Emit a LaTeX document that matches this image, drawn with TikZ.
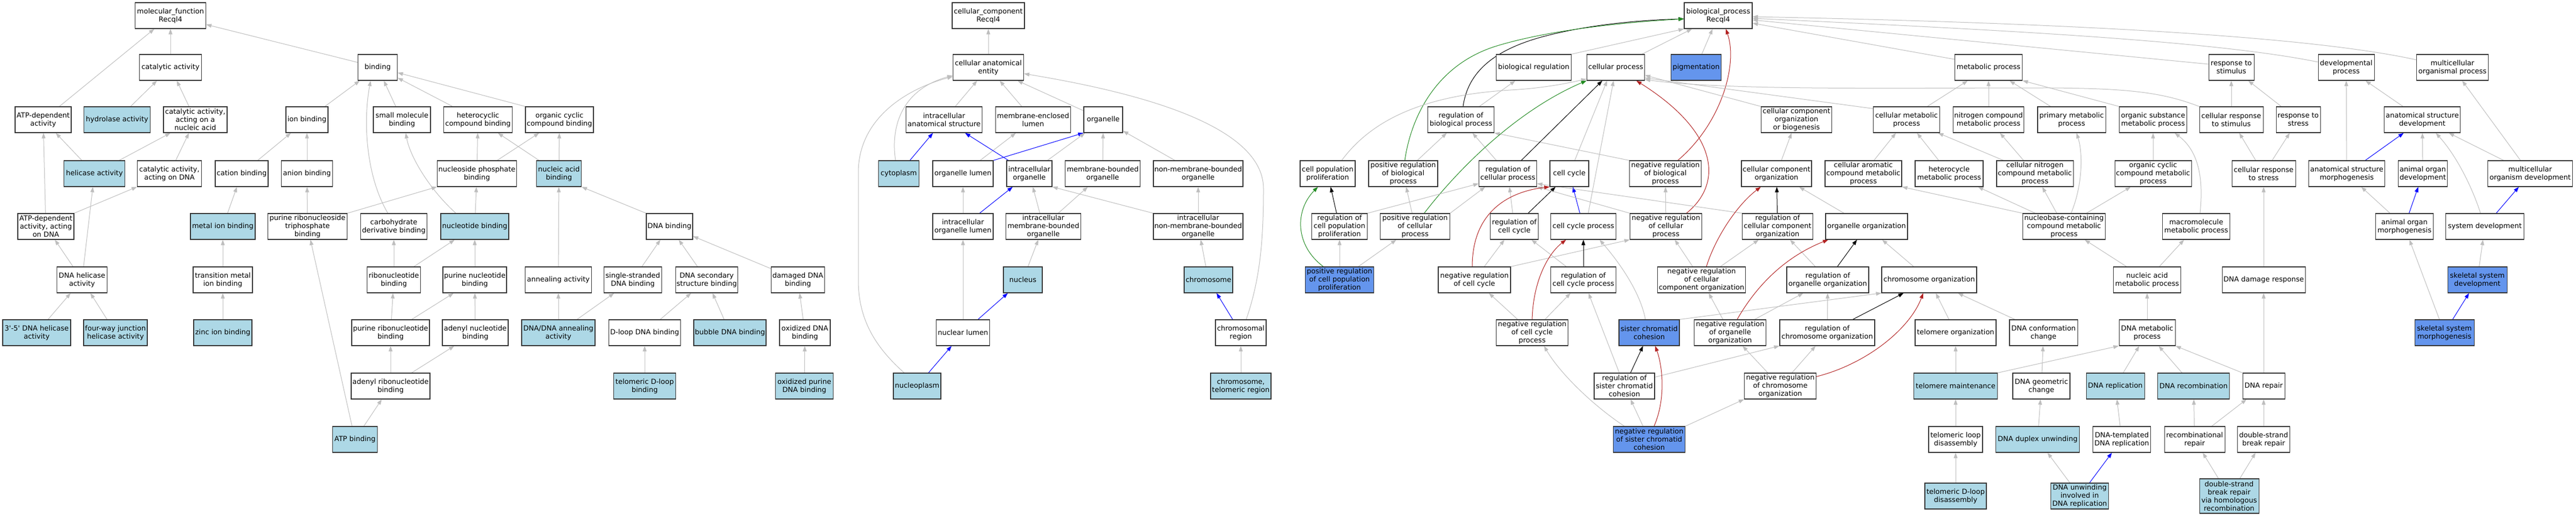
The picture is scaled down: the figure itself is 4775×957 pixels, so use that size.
\documentclass[tikz,border=0pt]{standalone}
\usepackage{fontspec}
\setmainfont{DejaVu Sans}
\usetikzlibrary{arrows.meta,backgrounds}
\definecolor{egray}{RGB}{190,190,190}
\definecolor{lbcol}{RGB}{173,216,230}
\definecolor{rbcol}{RGB}{100,149,237}
\definecolor{ered}{RGB}{178,34,34}
\definecolor{egreen}{RGB}{34,139,34}
\definecolor{eblue}{RGB}{0,0,255}
\newcommand\nodefont{\fontsize{13}{15}\selectfont}
\tikzset{
  gobox/.style={draw=black!80, line width=1.1pt, fill=white, minimum height=48pt, inner sep=0pt, align=center, font=\nodefont},
  lbfill/.style={fill=lbcol},
  rbfill/.style={fill=rbcol},
  gedge/.style={draw=egray, line width=1pt, -{Triangle[length=10pt,width=7pt]}},
  kedge/.style={gedge, draw=black},
  gnedge/.style={gedge, draw=egreen},
  redge/.style={gedge, draw=ered},
  bledge/.style={gedge, draw=eblue}
}
\begin{document}
\begin{tikzpicture}[x=1pt,y=-1pt]
\useasboundingbox (0,0) rectangle (4775,957);
% ---------------- molecular function ----------------
\node[gobox,minimum width=131pt] (mf) at (316,29) {molecular\_function\\Recql4};
\node[gobox,minimum width=115pt] (catalytic) at (316,125) {catalytic activity};
\node[gobox,minimum width=104pt] (atpdep) at (80,222) {ATP-dependent\\activity};
\node[gobox,lbfill,minimum width=123pt] (hydrolase) at (217,222) {hydrolase activity};
\node[gobox,minimum width=118pt] (catna) at (362,222) {catalytic activity,\\acting on a\\nucleic acid};
\node[gobox,minimum width=78pt] (ionb) at (569,222) {ion binding};
\node[gobox,lbfill,minimum width=113pt] (helicase) at (175,322) {helicase activity};
\node[gobox,minimum width=119pt] (catdna) at (314,322) {catalytic activity,\\acting on DNA};
\node[gobox,minimum width=98pt] (cation) at (448,322) {cation binding};
\node[gobox,minimum width=95pt] (anion) at (569,322) {anion binding};
\node[gobox,minimum width=104pt] (atpdna) at (85,420) {ATP-dependent\\activity, acting\\on DNA};
\node[gobox,lbfill,minimum width=120pt] (metal) at (413,420) {metal ion binding};
\node[gobox,minimum width=147pt] (prtb) at (570,420) {purine ribonucleoside\\triphosphate\\binding};
\node[gobox,minimum width=93pt] (dnahel) at (152,519) {DNA helicase\\activity};
\node[gobox,minimum width=110pt] (transmetal) at (413,519) {transition metal\\ion binding};
\node[gobox,lbfill,minimum width=126pt] (h35) at (68,617) {3\textquotesingle-5\textquotesingle\ DNA helicase\\activity};
\node[gobox,lbfill,minimum width=118pt] (fourway) at (214,617) {four-way junction\\helicase activity};
\node[gobox,lbfill,minimum width=108pt] (zinc) at (413,617) {zinc ion binding};
\node[gobox,minimum width=73pt] (binding) at (700,125) {binding};
\node[gobox,minimum width=106pt] (smallmol) at (745,222) {small molecule\\binding};
\node[gobox,minimum width=127pt] (hetcyc) at (886,222) {heterocyclic\\compound binding};
\node[gobox,minimum width=126pt] (orgcyc) at (1037,222) {organic cyclic\\compound binding};
\node[gobox,minimum width=147pt] (nucphos) at (884,322) {nucleoside phosphate\\binding};
\node[gobox,lbfill,minimum width=83pt] (nucacid) at (1036,322) {nucleic acid\\binding};
\node[gobox,minimum width=123pt] (carbo) at (730,420) {carbohydrate\\derivative binding};
\node[gobox,lbfill,minimum width=126pt] (nucleotide) at (880,420) {nucleotide binding};
\node[gobox,minimum width=86pt] (dnab) at (1241,420) {DNA binding};
\node[gobox,minimum width=99pt] (ribonuc) at (730,519) {ribonucleotide\\binding};
\node[gobox,minimum width=118pt] (purnuc) at (880,519) {purine nucleotide\\binding};
\node[gobox,minimum width=123pt] (anneal) at (1035,519) {annealing activity};
\node[gobox,minimum width=107pt] (ssdna) at (1173,519) {single-stranded\\DNA binding};
\node[gobox,minimum width=115pt] (dnasec) at (1310,519) {DNA secondary\\structure binding};
\node[gobox,minimum width=99pt] (damaged) at (1479,519) {damaged DNA\\binding};
\node[gobox,minimum width=144pt] (purribo) at (724,617) {purine ribonucleotide\\binding};
\node[gobox,minimum width=122pt] (adenylnuc) at (881,617) {adenyl nucleotide\\binding};
\node[gobox,lbfill,minimum width=136pt] (dnadna) at (1035,617) {DNA/DNA annealing\\activity};
\node[gobox,minimum width=133pt] (dloop) at (1195,617) {D-loop DNA binding};
\node[gobox,lbfill,minimum width=134pt] (bubble) at (1353,617) {bubble DNA binding};
\node[gobox,minimum width=94pt] (oxid) at (1492,617) {oxidized DNA\\binding};
\node[gobox,minimum width=146pt] (adenylribo) at (724,716) {adenyl ribonucleotide\\binding};
\node[gobox,lbfill,minimum width=115pt] (teldloop) at (1195,716) {telomeric D-loop\\binding};
\node[gobox,lbfill,minimum width=107pt] (oxpur) at (1491,716) {oxidized purine\\DNA binding};
\node[gobox,lbfill,minimum width=83pt] (atpb) at (658,815) {ATP binding};
% ---------------- cellular component ----------------
\node[gobox,minimum width=134pt] (cc) at (1832,29) {cellular\_component\\Recql4};
\node[gobox,minimum width=131pt] (cae) at (1832,125) {cellular anatomical\\entity};
\node[gobox,minimum width=141pt] (ias) at (1750,222) {intracellular\\anatomical structure};
\node[gobox,minimum width=139pt] (mel) at (1915,222) {membrane-enclosed\\lumen};
\node[gobox,minimum width=72pt] (organelle) at (2045,222) {organelle};
\node[gobox,lbfill,minimum width=75pt] (cytoplasm) at (1666,322) {cytoplasm};
\node[gobox,minimum width=112pt] (orglumen) at (1785,322) {organelle lumen};
\node[gobox,minimum width=84pt] (intraorg) at (1908,322) {intracellular\\organelle};
\node[gobox,minimum width=139pt] (mbo) at (2044,322) {membrane-bounded\\organelle};
\node[gobox,minimum width=166pt] (nmbo) at (2221,322) {non-membrane-bounded\\organelle};
\node[gobox,minimum width=112pt] (iol) at (1785,420) {intracellular\\organelle lumen};
\node[gobox,minimum width=139pt] (imbo) at (1934,420) {intracellular\\membrane-bounded\\organelle};
\node[gobox,minimum width=166pt] (inmbo) at (2221,420) {intracellular\\non-membrane-bounded\\organelle};
\node[gobox,lbfill,minimum width=72pt] (nucleus) at (1896,519) {nucleus};
\node[gobox,lbfill,minimum width=90pt] (chromosome) at (2240,519) {chromosome};
\node[gobox,minimum width=99pt] (nuclumen) at (1785,617) {nuclear lumen};
\node[gobox,minimum width=94pt] (chromreg) at (2300,617) {chromosomal\\region};
\node[gobox,lbfill,minimum width=88pt] (nucleoplasm) at (1700,716) {nucleoplasm};
\node[gobox,lbfill,minimum width=112pt] (telreg) at (2300,716) {chromosome,\\telomeric region};
% ---------------- biological process ----------------
\node[gobox,minimum width=126pt] (bp) at (3185,29) {biological\_process\\Recql4};
\node[gobox,minimum width=139pt] (bioreg) at (2843,125) {biological regulation};
\node[gobox,minimum width=107pt] (cellproc) at (2995,125) {cellular process};
\node[gobox,rbfill,minimum width=93pt] (pigment) at (3144,125) {pigmentation};
\node[gobox,minimum width=125pt] (metab) at (3686,125) {metabolic process};
\node[gobox,minimum width=84pt] (respstim) at (4136,125) {response to\\stimulus};
\node[gobox,minimum width=104pt] (devproc) at (4349,125) {developmental\\process};
\node[gobox,minimum width=133pt] (multorg) at (4546,125) {multicellular\\organismal process};
\node[gobox,minimum width=123pt] (regbio) at (2708,222) {regulation of\\biological process};
\node[gobox,minimum width=131pt] (ccob) at (3330,222) {cellular component\\organization\\or biogenesis};
\node[gobox,minimum width=123pt] (cellmet) at (3534,222) {cellular metabolic\\process};
\node[gobox,minimum width=131pt] (nitro) at (3686,222) {nitrogen compound\\metabolic process};
\node[gobox,minimum width=126pt] (primary) at (3840,222) {primary metabolic\\process};
\node[gobox,minimum width=125pt] (orgsub) at (3991,222) {organic substance\\metabolic process};
\node[gobox,minimum width=118pt] (cellresp) at (4136,222) {cellular response\\to stimulus};
\node[gobox,minimum width=82pt] (respstress) at (4260,222) {response to\\stress};
\node[gobox,minimum width=141pt] (asd) at (4490,222) {anatomical structure\\development};
\node[gobox,minimum width=102pt] (cpp) at (2461,322) {cell population\\proliferation};
\node[gobox,minimum width=128pt] (posbio) at (2601,322) {positive regulation\\of biological\\process};
\node[gobox,minimum width=107pt] (regcell) at (2795,322) {regulation of\\cellular process};
\node[gobox,minimum width=72pt] (cellcycle) at (2909,322) {cell cycle};
\node[gobox,minimum width=133pt] (negbio) at (3087,322) {negative regulation\\of biological\\process};
\node[gobox,minimum width=130pt] (cco) at (3293,322) {cellular component\\organization};
\node[gobox,minimum width=142pt] (carom) at (3454,322) {cellular aromatic\\compound metabolic\\process};
\node[gobox,minimum width=126pt] (hetero) at (3613,322) {heterocycle\\metabolic process};
\node[gobox,minimum width=142pt] (cnitro) at (3772,322) {cellular nitrogen\\compound metabolic\\process};
\node[gobox,minimum width=142pt] (occm) at (3991,322) {organic cyclic\\compound metabolic\\process};
\node[gobox,minimum width=118pt] (crs) at (4196,322) {cellular response\\to stress};
\node[gobox,minimum width=141pt] (asm) at (4350,322) {anatomical structure\\morphogenesis};
\node[gobox,minimum width=91pt] (aod) at (4491,322) {animal organ\\development};
\node[gobox,minimum width=157pt] (mod) at (4690,322) {multicellular\\organism development};
\node[gobox,minimum width=103pt] (regcpp) at (2483,420) {regulation of\\cell population\\proliferation};
\node[gobox,minimum width=129pt] (poscell) at (2623,420) {positive regulation\\of cellular\\process};
\node[gobox,minimum width=89pt] (regcc) at (2807,420) {regulation of\\cell cycle};
\node[gobox,minimum width=121pt] (ccp) at (2935,420) {cell cycle process};
\node[gobox,minimum width=133pt] (negcell) at (3088,420) {negative regulation\\of cellular\\process};
\node[gobox,minimum width=131pt] (regcco) at (3295,420) {regulation of\\cellular component\\organization};
\node[gobox,minimum width=152pt] (orgorg) at (3460,420) {organelle organization};
\node[gobox,minimum width=153pt] (nbccm) at (3826,420) {nucleobase-containing\\compound metabolic\\process};
\node[gobox,minimum width=125pt] (macro) at (4071,420) {macromolecule\\metabolic process};
\node[gobox,minimum width=107pt] (aom) at (4457,420) {animal organ\\morphogenesis};
\node[gobox,minimum width=145pt] (sysdev) at (4606,420) {system development};
\node[gobox,rbfill,minimum width=127pt] (pospp) at (2483,519) {positive regulation\\of cell population\\proliferation};
\node[gobox,minimum width=134pt] (negcc) at (2733,519) {negative regulation\\of cell cycle};
\node[gobox,minimum width=121pt] (regccp) at (2935,519) {regulation of\\cell cycle process};
\node[gobox,minimum width=163pt] (negcco) at (3154,519) {negative regulation\\of cellular\\component organization};
\node[gobox,minimum width=152pt] (regoo) at (3388,519) {regulation of\\organelle organization};
\node[gobox,minimum width=176pt] (chromorg) at (3576,519) {chromosome organization};
\node[gobox,minimum width=125pt] (nucacidmet) at (3980,519) {nucleic acid\\metabolic process};
\node[gobox,minimum width=154pt] (ddr) at (4196,519) {DNA damage response};
\node[gobox,rbfill,minimum width=110pt] (ssd) at (4592,519) {skeletal system\\development};
\node[gobox,minimum width=133pt] (negccp) at (2840,617) {negative regulation\\of cell cycle\\process};
\node[gobox,rbfill,minimum width=112pt] (scc) at (3057,617) {sister chromatid\\cohesion};
\node[gobox,minimum width=133pt] (negoo) at (3207,617) {negative regulation\\of organelle\\organization};
\node[gobox,minimum width=176pt] (regchrom) at (3387,617) {regulation of\\chromosome organization};
\node[gobox,minimum width=150pt] (telorg) at (3625,617) {telomere organization};
\node[gobox,minimum width=126pt] (dnaconf) at (3788,617) {DNA conformation\\change};
\node[gobox,minimum width=104pt] (dnamet) at (3980,617) {DNA metabolic\\process};
\node[gobox,rbfill,minimum width=110pt] (ssm) at (4531,617) {skeletal system\\morphogenesis};
\node[gobox,minimum width=112pt] (regscc) at (3011,716) {regulation of\\sister chromatid\\cohesion};
\node[gobox,minimum width=133pt] (negchrom) at (3300,716) {negative regulation\\of chromosome\\organization};
\node[gobox,lbfill,minimum width=155pt] (telmaint) at (3625,716) {telomere maintenance};
\node[gobox,minimum width=106pt] (dnageo) at (3784,716) {DNA geometric\\change};
\node[gobox,lbfill,minimum width=108pt] (dnarep) at (3921,716) {DNA replication};
\node[gobox,lbfill,minimum width=133pt] (dnarecomb) at (4066,716) {DNA recombination};
\node[gobox,minimum width=78pt] (dnarepair) at (4196,716) {DNA repair};
\node[gobox,rbfill,minimum width=133pt] (negscc) at (3057,815) {negative regulation\\of sister chromatid\\cohesion};
\node[gobox,minimum width=100pt] (tld) at (3625,815) {telomeric loop\\disassembly};
\node[gobox,lbfill,minimum width=155pt] (dnadup) at (3777,815) {DNA duplex unwinding};
\node[gobox,minimum width=107pt] (dtdr) at (3933,815) {DNA-templated\\DNA replication};
\node[gobox,minimum width=112pt] (recrep) at (4068,815) {recombinational\\repair};
\node[gobox,minimum width=97pt] (dsbr) at (4196,815) {double-strand\\break repair};
\node[gobox,lbfill,minimum width=114pt] (tdld) at (3625,920) {telomeric D-loop\\disassembly};
\node[gobox,lbfill,minimum width=107pt] (dnaunw) at (3855,920) {DNA unwinding\\involved in\\DNA replication};
\node[gobox,lbfill,minimum width=110pt,minimum height=64pt] (dsbrhr) at (4132,920) {double-strand\\break repair\\via homologous\\recombination};

\begin{pgfonlayer}{background}
\fill[white] (0,0) rectangle (4775,957);
% MF edges
\draw[gedge] (catalytic) -- (mf);
\draw[gedge] (atpdep) -- (mf);
\draw[gedge] (binding) -- (mf);
\draw[gedge] (hydrolase) -- (catalytic);
\draw[gedge] (catna) -- (catalytic);
\draw[gedge] (helicase) -- (atpdep);
\draw[gedge] (helicase) -- (catna);
\draw[gedge] (catdna) -- (catna);
\draw[gedge] (atpdna) -- (atpdep);
\draw[gedge] (atpdna.north east) -- (catdna.south west);
\draw[gedge] (dnahel) -- (atpdna);
\draw[gedge] (dnahel) -- (helicase);
\draw[gedge] (h35) -- (dnahel);
\draw[gedge] (fourway) -- (dnahel);
\draw[gedge] (ionb) -- (binding);
\draw[gedge] (cation) -- (ionb);
\draw[gedge] (anion) -- (ionb);
\draw[gedge] (metal) -- (cation);
\draw[gedge] (transmetal) -- (metal);
\draw[gedge] (zinc) -- (transmetal);
\draw[gedge] (prtb) -- (anion);
\draw[gedge] (prtb.north east) -- (nucphos.south west);
\draw[gedge] (atpb) -- (prtb);
\draw[gedge] (atpb) -- (adenylribo);
\draw[gedge] (smallmol) -- (binding);
\draw[gedge] (hetcyc) -- (binding);
\draw[gedge] (orgcyc.north west) -- (binding);
\draw[gedge] ([xshift=-11pt]carbo.north) .. controls (680,330) and (672,230) .. ([xshift=-13pt]binding.south);
\draw[gedge] (nucphos) -- (hetcyc);
\draw[gedge] (nucphos) -- (orgcyc);
\draw[gedge] (nucacid) -- (hetcyc);
\draw[gedge] (nucacid) -- (orgcyc);
\draw[gedge] (nucleotide) -- (nucphos);
\draw[gedge] ([xshift=-35pt]nucleotide.north) .. controls (795,350) and (760,290) .. ([xshift=7pt]smallmol.south);
\draw[gedge] (ribonuc) -- (carbo);
\draw[gedge] (ribonuc) -- (nucleotide);
\draw[gedge] (purnuc) -- (nucleotide);
\draw[gedge] (purribo) -- (ribonuc);
\draw[gedge] (purribo) -- (purnuc);
\draw[gedge] (adenylnuc) -- (purnuc);
\draw[gedge] (adenylribo) -- (purribo);
\draw[gedge] (adenylribo) -- (adenylnuc);
\draw[gedge] (anneal) -- (nucacid);
\draw[gedge] (dnadna) -- (anneal);
\draw[gedge] (dnadna) -- (ssdna);
\draw[gedge] (dnab.north west) -- (nucacid.south east);
\draw[gedge] (ssdna) -- (dnab);
\draw[gedge] (dnasec) -- (dnab);
\draw[gedge] (damaged) -- (dnab);
\draw[gedge] (dloop) -- (dnasec);
\draw[gedge] (bubble) -- (dnasec);
\draw[gedge] (oxid) -- (damaged);
\draw[gedge] (oxpur) -- (oxid);
\draw[gedge] (teldloop) -- (dloop);
% CC edges
\draw[gedge] (cae) -- (cc);
\draw[gedge] (ias) -- (cae);
\draw[gedge] (mel) -- (cae);
\draw[gedge] (organelle) -- (cae);
\draw[gedge] ([xshift=-6pt]cytoplasm.north) .. controls (1650,230) and (1675,165) .. ([yshift=-15pt]cae.west);
\draw[gedge] ([xshift=-24pt]nucleoplasm.north) .. controls (1630,650) and (1591,600) .. (1591,520) -- (1591,320) .. controls (1591,220) and (1680,165) .. ([yshift=-17pt]cae.west);
\draw[gedge] ([xshift=10pt]chromreg.north) .. controls (2335,520) and (2342,450) .. (2342,350) .. controls (2342,230) and (2100,170) .. (cae.350);
\draw[bledge] (cytoplasm) -- (ias);
\draw[gedge] (orglumen) -- (mel);
\draw[bledge] (orglumen.north east) -- (organelle.south west);
\draw[bledge] (intraorg) -- (ias);
\draw[gedge] (intraorg) -- (organelle);
\draw[gedge] (mbo) -- (organelle);
\draw[gedge] (nmbo) -- (organelle);
\draw[gedge] (iol) -- (orglumen);
\draw[bledge] (iol) -- (intraorg);
\draw[gedge] (imbo) -- (intraorg);
\draw[gedge] (imbo) -- (mbo);
\draw[gedge] (inmbo.north west) -- (intraorg.south east);
\draw[gedge] (inmbo) -- (nmbo);
\draw[gedge] (nucleus) -- (imbo);
\draw[gedge] (chromosome) -- (inmbo);
\draw[gedge] (nuclumen) -- (iol);
\draw[bledge] (nuclumen) -- (nucleus);
\draw[bledge] (chromreg) -- (chromosome);
\draw[bledge] (nucleoplasm) -- (nuclumen);
\draw[gedge] (telreg) -- (chromreg);
% BP edges
\draw[gedge] (bioreg.north east) -- (bp.south west);
\draw[gedge] (cellproc) -- (bp);
\draw[gedge] (pigment) -- (bp);
\draw[gedge] ([yshift=15pt]metab.west) -- ([yshift=-14pt]bp.east);
\draw[gedge] ([yshift=6pt]respstim.west) -- ([yshift=-8pt]bp.east);
\draw[gedge] ([yshift=10pt]devproc.west) .. controls (4100,75) and (3700,55) .. ([yshift=-5pt]bp.east);
\draw[gedge] ([yshift=14pt]multorg.west) .. controls (4250,60) and (3700,40) .. ([yshift=-2pt]bp.east);
\draw[kedge] ([xshift=4pt]regbio.north) .. controls (2720,140) and (2760,95) .. (2860,68) .. controls (2950,44) and (3050,37) .. ([yshift=-6pt]bp.west);
\draw[gnedge] ([xshift=3pt]posbio.north) .. controls (2615,220) and (2660,120) .. (2775,85) .. controls (2867,57) and (3000,42) .. ([yshift=-6pt]bp.west);
\draw[redge] ([xshift=23pt]negbio.north) .. controls (3190,230) and (3222,120) .. ([xshift=14pt]bp.south);
\draw[gedge] (regbio) -- (bioreg);
\draw[gedge] (posbio) -- (regbio);
\draw[gedge] (regcell) -- (regbio);
\draw[gedge] (negbio.north west) -- (regbio.south east);
\draw[gedge] ([xshift=26pt]cpp.north) .. controls (2530,240) and (2610,178) .. (2800,167) .. controls (2870,163) and (2915,152) .. ([yshift=3pt]cellproc.south west);
\draw[kedge] (regcell) -- (cellproc);
\draw[gnedge] ([xshift=17pt]poscell.north) .. controls (2690,330) and (2800,210) .. (cellproc.south west);
\draw[gedge] ([xshift=10pt]cellcycle.north) -- ([xshift=-16pt]cellproc.south);
\draw[gedge] ([xshift=9pt]ccp.north) -- ([xshift=-4pt]cellproc.south);
\draw[redge] ([xshift=38pt]negcell.north) .. controls (3195,340) and (3185,245) .. ([xshift=38pt]cellproc.south);
\draw[gedge] (ccob.north west) -- ([yshift=10pt]cellproc.south east);
\draw[gedge] ([yshift=-4pt]cellmet.north west) -- ([yshift=5pt]cellproc.south east);
\draw[gedge] (cellresp.north west) .. controls (4010,172) and (3950,164) .. (3800,163) .. controls (3500,163) and (3200,168) .. ([yshift=2pt]cellproc.south east);
\draw[gedge] (cellmet) -- (metab);
\draw[gedge] (nitro) -- (metab);
\draw[gedge] (primary) -- (metab);
\draw[gedge] (orgsub.north west) -- (metab.south east);
\draw[gedge] (cellresp) -- (respstim);
\draw[gedge] (respstress) -- (respstim);
\draw[gedge] (asd) -- (devproc);
\draw[gedge] (asm) -- (devproc);
\draw[gedge] (mod) -- (multorg);
\draw[kedge] (regcpp) -- (cpp);
\draw[gedge] (regcpp.north east) -- ([yshift=6pt]regcell.south west);
\draw[gnedge] ([xshift=-30pt]pospp.north) .. controls (2400,455) and (2400,390) .. ([xshift=-18pt]cpp.south);
\draw[gedge] (pospp) -- (regcpp);
\draw[gedge] (pospp) -- (poscell);
\draw[gedge] (poscell) -- (posbio);
\draw[gedge] (poscell.north east) -- ([xshift=12pt]regcell.south west);
\draw[gedge] (regcc) -- (regcell);
\draw[kedge] (regcc) -- (cellcycle);
\draw[bledge] (ccp) -- (cellcycle);
\draw[gedge] (negcell) -- (negbio);
\draw[gedge] (negcell.north west) -- (regcell.south east);
\draw[gedge] (regcco.north west) -- ([yshift=6pt]regcell.south east);
\draw[kedge] (regcco) -- (cco);
\draw[gedge] (cco) -- (ccob);
\draw[gedge] (carom) -- (cellmet);
\draw[gedge] (hetero) -- (cellmet);
\draw[gedge] (cnitro) -- (cellmet);
\draw[gedge] (cnitro) -- (nitro);
\draw[gedge] (occm) -- (orgsub);
\draw[gedge] (orgorg) -- (cco);
\draw[gedge] (negcc) -- (regcc);
\draw[redge] ([xshift=-4pt]negcc.north) .. controls (2729,390) and (2800,355) .. (cellcycle.south west);
\draw[gedge] (negcc.north east) -- (negcell.south west);
\draw[gedge] (regccp) -- (regcc);
\draw[kedge] (regccp) -- (ccp);
\draw[gedge] (negcco) -- (negcell);
\draw[gedge] (negcco) -- (regcco);
\draw[redge] ([xshift=9pt]negcco.north) .. controls (3180,440) and (3220,380) .. ([xshift=-29pt]cco.south);
\draw[gedge] (regoo) -- (regcco);
\draw[kedge] (regoo) -- (orgorg);
\draw[gedge] (chromorg) -- (orgorg);
\draw[gedge] (nbccm.north west) -- (carom.south east);
\draw[gedge] (nbccm) -- (hetero);
\draw[gedge] (nbccm) -- (cnitro);
\draw[gedge] ([xshift=13pt]nbccm.north) .. controls (3862,340) and (3860,280) .. ([xshift=9pt]primary.south);
\draw[gedge] (nbccm) -- (occm);
\draw[gedge] ([xshift=7pt]macro.north) .. controls (4085,330) and (4075,280) .. ([xshift=40pt]orgsub.south);
\draw[gedge] (nucacidmet) -- (nbccm);
\draw[gedge] (nucacidmet) -- (macro);
\draw[gedge] (crs) -- (cellresp);
\draw[gedge] (crs) -- (respstress);
\draw[gedge] (ddr) -- (crs);
\draw[gedge] (negccp) -- (negcc);
\draw[gedge] (negccp) -- (regccp);
\draw[redge] (negccp.north) .. controls (2842,520) and (2870,470) .. ([xshift=-32pt]ccp.south);
\draw[gedge] ([xshift=-7pt]scc.north) .. controls (3040,540) and (3000,485) .. ([xshift=30pt]ccp.south);
\draw[gedge] (scc.north east) -- (chromorg.south west);
\draw[gedge] (negoo) -- (negcco);
\draw[gedge] (negoo) -- (regoo);
\draw[redge] ([xshift=13pt]negoo.north) .. controls (3250,540) and (3300,480) .. ([xshift=-71pt]orgorg.south);
\draw[gedge] (regchrom) -- (regoo);
\draw[kedge] (regchrom) -- (chromorg);
\draw[gedge] (telorg) -- (chromorg);
\draw[gedge] (dnaconf) -- (chromorg);
\draw[gedge] (dnamet) -- (nucacidmet);
\draw[gedge] (regscc) -- (regccp);
\draw[kedge] (regscc) -- (scc);
\draw[gedge] ([yshift=-8pt]regscc.north east) -- (regchrom.south west);
\draw[gedge] (negchrom) -- (negoo);
\draw[gedge] (negchrom) -- (regchrom);
\draw[redge] ([yshift=-7pt]negchrom.north east) .. controls (3460,675) and (3540,610) .. ([xshift=-11pt]chromorg.south);
\draw[gedge] (telmaint) -- (telorg);
\draw[gedge] (telmaint.north east) -- (dnamet.south west);
\draw[gedge] (dnageo) -- (dnaconf);
\draw[gedge] (dnarep) -- (dnamet);
\draw[gedge] (dnarecomb) -- (dnamet);
\draw[gedge] (dnarepair.north west) -- (dnamet.south east);
\draw[gedge] (dnarepair) -- (ddr);
\draw[gedge] (negscc) -- (regscc);
\draw[redge] ([xshift=9pt]negscc.north) .. controls (3088,740) and (3082,680) .. ([xshift=11pt]scc.south);
\draw[gedge] (negscc.north east) -- (negchrom.south west);
\draw[gedge] ([xshift=-46pt]negscc.north) .. controls (2950,750) and (2890,690) .. ([xshift=22pt]negccp.south);
\draw[gedge] (tld) -- (telmaint);
\draw[gedge] (dnadup) -- (dnageo);
\draw[gedge] (dtdr) -- (dnarep);
\draw[gedge] (recrep) -- (dnarecomb);
\draw[gedge] (recrep) -- (dnarepair);
\draw[gedge] (dsbr) -- (dnarepair);
\draw[gedge] (tdld) -- (tld);
\draw[gedge] (dnaunw) -- (dnadup);
\draw[bledge] (dnaunw) -- (dtdr);
\draw[gedge] (dsbrhr) -- (recrep);
\draw[gedge] (dsbrhr) -- (dsbr);
\draw[bledge] (asm) -- (asd);
\draw[gedge] (aod) -- (asd);
\draw[gedge] ([xshift=-8pt]sysdev.north) .. controls (4580,340) and (4550,285) .. ([xshift=25pt]asd.south);
\draw[gedge] (mod) -- (asd);
\draw[gedge] (aom) -- (asm);
\draw[bledge] (aom) -- (aod);
\draw[bledge] (sysdev) -- (mod);
\draw[gedge] (ssd) -- (sysdev);
\draw[gedge] (ssm) -- (aom);
\draw[bledge] (ssm) -- (ssd);
\end{pgfonlayer}
\end{tikzpicture}
\end{document}
